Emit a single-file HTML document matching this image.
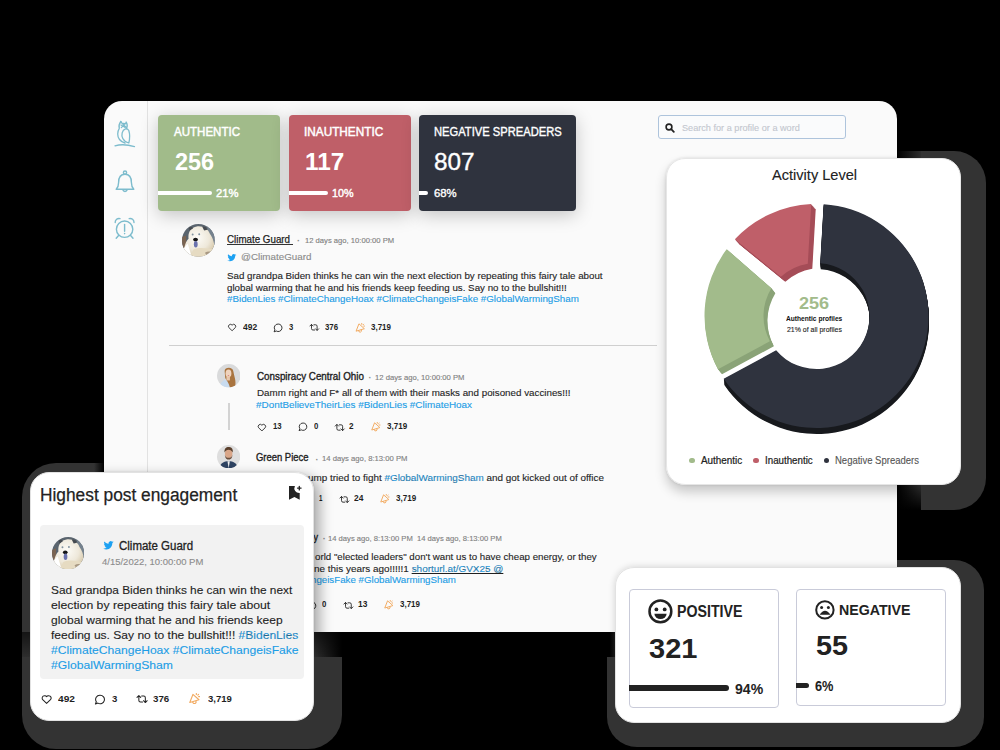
<!DOCTYPE html><html><head><meta charset="utf-8"><style>
html,body{margin:0;padding:0;}
body{width:1000px;height:750px;overflow:hidden;background:#000;position:relative;font-family:'Liberation Sans',sans-serif;}
.t{position:absolute;white-space:nowrap;transform-origin:0 0;}
.L{position:absolute;left:0;top:0;width:1000px;height:750px;}
</style></head><body>
<div style="position:absolute;left:630px;top:151.2px;width:355.5px;height:358.5px;border-radius:32px;background:#333;"></div>
<div style="position:absolute;left:22px;top:462.5px;width:319.5px;height:286.5px;border-radius:34px;background:#333;"></div>
<div style="position:absolute;left:607px;top:560px;width:377px;height:186.5px;border-radius:30px;background:#333;"></div>
<div style="position:absolute;left:897px;top:151px;width:24px;height:359px;border-radius:0;background:linear-gradient(to top, #000 0, rgba(0,0,0,0) 26px), linear-gradient(to right, #000 0, rgba(0,0,0,.75) 30%, rgba(0,0,0,.1) 100%);"></div>
<div style="position:absolute;left:314px;top:632px;width:28px;height:24.5px;border-radius:0;background:linear-gradient(to left, #000 0, rgba(0,0,0,.0) 100%), linear-gradient(to bottom, rgba(0,0,0,.6) 0, rgba(0,0,0,.1) 100%);"></div>
<div style="position:absolute;left:22px;top:632px;width:292px;height:24.5px;border-radius:0;background:linear-gradient(to bottom, rgba(0,0,0,.6) 0, rgba(0,0,0,.1) 100%);"></div>
<div style="position:absolute;left:604px;top:632px;width:11px;height:24.5px;border-radius:0;background:linear-gradient(to right, #000 50%, rgba(0,0,0,.5) 100%);"></div>
<div style="position:absolute;left:94px;top:455px;width:10px;height:20px;border-radius:0;background:linear-gradient(to right, rgba(0,0,0,0) 0, #000 100%);"></div>
<div style="position:absolute;left:103.5px;top:101.2px;width:793.5px;height:530.5px;border-radius:18px;background:#fafafa;overflow:hidden;"></div>
<div style="position:absolute;left:146.5px;top:101px;width:1px;height:531px;border-radius:0;background:#e2e2e2;"></div>
<svg style="position:absolute;left:110px;top:115px" width="30" height="35" viewBox="110 115 30 35"><g fill="none" stroke="#7dbccd" stroke-width="1.3" stroke-linecap="round" stroke-linejoin="round"><path d="M120.8 121.5 C119 124 118.7 126.5 119.3 128.3 C117.3 131.5 117 136.5 119.5 139.5 C121 141.5 123 142.5 125 143"/><path d="M120.8 121.5 L122.3 123.6 C123.5 123.2 124.8 123.3 125.6 123.8 L126.2 122 C127.3 123.8 127.5 126.5 126.5 128.5"/><path d="M121 125 L124.8 127.3 M123 124.3 L126 127.3 M121.3 127.6 L124.5 124.6"/><path d="M125.5 128.8 C122 130 121 135 122.8 138.5 C124 141 126.5 142.3 128.8 143 C129.8 139 129.9 134 128.8 130.5 C128 129.2 126.8 128.6 125.5 128.8 z"/><path d="M115 145.8 C120 144.4 127 144.4 134.5 146.6"/></g></svg>
<svg style="position:absolute;left:110px;top:165px" width="30" height="32" viewBox="110 165 30 32"><g fill="none" stroke="#7dbccd" stroke-width="1.4" stroke-linejoin="round"><circle cx="125" cy="172.6" r="1.6"/><path d="M125 174.3 C119.5 174.3 118.6 178.5 118.6 182.5 C118.6 186 118 187.5 116.2 189.3 L133.8 189.3 C132 187.5 131.4 186 131.4 182.5 C131.4 178.5 130.5 174.3 125 174.3z"/><path d="M122.8 189.8 A2.3 2.3 0 0 0 127.2 189.8"/></g></svg>
<svg style="position:absolute;left:110px;top:212px" width="30" height="32" viewBox="110 212 30 32"><g fill="none" stroke="#7dbccd" stroke-width="1.4" stroke-linecap="round"><circle cx="124.6" cy="229.2" r="8.2"/><path d="M115.2 222.5 A3.8 3.8 0 0 1 120 218.6 M134 222.5 A3.8 3.8 0 0 0 129.2 218.6"/><path d="M118.8 235.2 116.2 238.3 M130.4 235.2 133 238.3"/><path d="M124.6 224.5 V231.3"/></g><circle cx="124.6" cy="233.6" r=".8" fill="#7dbccd"/></svg>
<div style="position:absolute;left:158px;top:115px;width:122px;height:95.5px;border-radius:4px;background:#a1bb8a;box-shadow:0 4px 18px rgba(0,0,0,.22);"></div>
<div style="position:absolute;left:289px;top:115px;width:121.5px;height:95.5px;border-radius:4px;background:#bf5f68;box-shadow:0 4px 18px rgba(0,0,0,.22);"></div>
<div style="position:absolute;left:419px;top:115px;width:156.6px;height:95.5px;border-radius:4px;background:#2f333e;box-shadow:0 4px 18px rgba(0,0,0,.22);"></div>
<div style="position:absolute;left:158px;top:190.9px;width:54px;height:4.6px;border-radius:0 3px 3px 0;background:#fff;"></div>
<div style="position:absolute;left:289px;top:190.9px;width:38.5px;height:4.6px;border-radius:0 3px 3px 0;background:#fff;"></div>
<div style="position:absolute;left:419px;top:190.9px;width:9px;height:4.6px;border-radius:0 3px 3px 0;background:#fff;"></div>
<div style="position:absolute;left:658.4px;top:115.3px;width:187.6px;height:24.2px;border-radius:3px;box-sizing:border-box;border:1px solid #aec4dc;background:#fafbfc;"></div>
<svg style="position:absolute;left:664.5px;top:122.5px;" width="10" height="10" viewBox="0 0 10 10"><circle cx="4" cy="4" r="2.9" fill="none" stroke="#222" stroke-width="1.6"/><path d="M6.2 6.2 8.8 8.8" stroke="#222" stroke-width="1.8" stroke-linecap="round"/></svg>
<svg style="position:absolute;left:181.8px;top:223.8px;" width="32.8" height="32.8" viewBox="0 0 40 40"><defs><clipPath id="cb181"><circle cx="20" cy="20" r="20"/></clipPath>
<radialGradient id="gb181" cx="0.42" cy="0.38" r="0.62"><stop offset="0" stop-color="#fdfcf8"/><stop offset="0.65" stop-color="#eee8da"/><stop offset="1" stop-color="#d9ccb0"/></radialGradient></defs>
<g clip-path="url(#cb181)"><rect width="40" height="40" fill="#5a646e"/>
<path d="M0 16 L5 14 L5 30 L0 31z" fill="#7a6452"/>
<path d="M30 0 L40 0 L40 26 L35 24z" fill="#75828e"/>
<path d="M3 40 C1 31 4 22 8 18 C7 10 11 4 18 3 C26 2 32 6 34 12 C38 17 40 25 40 33 L38 40z" fill="url(#gb181)"/>
<path d="M24.5 3.2 C27.5 2.5 30.5 4 31 7 L27 8z" fill="#454a50"/>
<path d="M8 4.5 C10 3 12.5 3.2 13.5 5.2 L9.5 8z" fill="#454a50"/>
<path d="M0 40 C0 33 3 27 7 24 L12 40z" fill="#ffffff"/>
<path d="M14 31 C21 28 30 29 40 32 L40 40 L10 40z" fill="#e6dbc2"/>
<path d="M28 35 C31 33 35 33 40 35 L40 40 L31 40z" fill="#6a5644" opacity=".5"/>
<circle cx="13" cy="12.8" r="1.2" fill="#8293a0"/><circle cx="21" cy="12.5" r="1.2" fill="#8293a0"/>
<ellipse cx="16.5" cy="19" rx="2.9" ry="2.3" fill="#151515"/>
<ellipse cx="16.8" cy="24.6" rx="2.3" ry="4" fill="#6a72ad"/>
</g></svg>
<div style="position:absolute;left:226.5px;top:243.8px;width:66.2px;height:0.9px;border-radius:0;background:#333;"></div>
<svg style="position:absolute;left:227px;top:253px;" width="9.8" height="8.6" viewBox="0 0 24 22"><path d="M23.6 4.9c-.8.4-1.7.6-2.7.7 1-.6 1.7-1.5 2.1-2.6-.9.5-1.9.9-3 1.1a4.7 4.7 0 0 0-8 4.3C8.1 8.2 4.7 6.3 2.4 3.5a4.7 4.7 0 0 0 1.4 6.2c-.8 0-1.5-.2-2.1-.6v.1c0 2.3 1.6 4.1 3.7 4.6-.7.2-1.4.2-2.1.1a4.7 4.7 0 0 0 4.4 3.2A9.4 9.4 0 0 1 0 19.1 13.3 13.3 0 0 0 7.1 21.2c8.6 0 13.3-7.1 13.3-13.3v-.6c.9-.7 1.7-1.5 2.3-2.4z" fill="#1da1f2"/></svg>
<svg style="position:absolute;left:227.0px;top:323.3px;" width="10.2" height="8.4" viewBox="0 0 24 22"><path d="M12 20.2 3.6 12.2A5 5 0 0 1 12 5.6a5 5 0 0 1 8.4 6.6z" fill="none" stroke="#222" stroke-width="2.2" stroke-linejoin="round"/></svg>
<svg style="position:absolute;left:273.3px;top:322.8px;" width="10" height="10" viewBox="0 0 24 24"><path d="M12.5 2.5a9 9 0 1 1-4.6 16.7L2.6 21.2l1.9-4.8A9 9 0 0 1 12.5 2.5z" fill="none" stroke="#222" stroke-width="2.2" stroke-linejoin="round"/></svg>
<svg style="position:absolute;left:309.2px;top:323.2px;" width="10.6" height="8.8" viewBox="0 0 26 22"><path d="M2 7.5 6 3.5l4 4M6 4v10a3.5 3.5 0 0 0 3.5 3.5H14M24 14.5l-4 4-4-4M20 18V8a3.5 3.5 0 0 0-3.5-3.5H12" fill="none" stroke="#222" stroke-width="2.2" stroke-linejoin="round" stroke-linecap="round"/></svg>
<svg style="position:absolute;left:354.5px;top:322.5px;" width="10.6" height="10" viewBox="0 0 10.5 11"><path d="M3.6 1.3 0.6 9 9.3 6.4z M3.4 8.6a1.6 1.6 0 1 0 3 -0.9 M6.8 0.5v0.9 M8.9 1.3 8.2 2 M9.9 3.4H9" fill="none" stroke="#f2ab62" stroke-width="1.1" stroke-linejoin="round" stroke-linecap="round"/></svg>
<div style="position:absolute;left:169.3px;top:345px;width:488px;height:1px;border-radius:0;background:#cfcfcf;"></div>
<svg style="position:absolute;left:216.8px;top:364px;" width="23.5" height="23.5" viewBox="0 0 40 40"><defs><clipPath id="cw216"><circle cx="20" cy="20" r="20"/></clipPath></defs>
<g clip-path="url(#cw216)"><rect width="40" height="40" fill="#d9dadb"/>
<path d="M4 40 C6 30 12 27 17 26 L24 40z" fill="#c8dbef"/>
<path d="M13 12 C13 5 27 4 28 13 C29 20 33 28 31 38 L22 40 C20 32 16 28 14 24z" fill="#a9743f"/>
<ellipse cx="19.5" cy="16" rx="5" ry="6.5" fill="#efd3bd"/>
<rect x="16" y="21" width="6" height="7" fill="#e8c7ad"/>
<ellipse cx="19.5" cy="19.5" rx="1.6" ry=".8" fill="#d47a78"/>
</g></svg>
<div style="position:absolute;left:228.2px;top:403.3px;width:1.6px;height:27px;border-radius:0;background:#d3d3d3;"></div>
<svg style="position:absolute;left:256.8px;top:422.8px;" width="9.8" height="8.6" viewBox="0 0 24 22"><path d="M12 20.2 3.6 12.2A5 5 0 0 1 12 5.6a5 5 0 0 1 8.4 6.6z" fill="none" stroke="#222" stroke-width="2.2" stroke-linejoin="round"/></svg>
<svg style="position:absolute;left:298.2px;top:422.2px;" width="9.8" height="9.8" viewBox="0 0 24 24"><path d="M12.5 2.5a9 9 0 1 1-4.6 16.7L2.6 21.2l1.9-4.8A9 9 0 0 1 12.5 2.5z" fill="none" stroke="#222" stroke-width="2.2" stroke-linejoin="round"/></svg>
<svg style="position:absolute;left:334.2px;top:422.8px;" width="11.5" height="9" viewBox="0 0 26 22"><path d="M2 7.5 6 3.5l4 4M6 4v10a3.5 3.5 0 0 0 3.5 3.5H14M24 14.5l-4 4-4-4M20 18V8a3.5 3.5 0 0 0-3.5-3.5H12" fill="none" stroke="#222" stroke-width="2.2" stroke-linejoin="round" stroke-linecap="round"/></svg>
<svg style="position:absolute;left:370.8px;top:421.8px;" width="9.8" height="9.8" viewBox="0 0 10.5 11"><path d="M3.6 1.3 0.6 9 9.3 6.4z M3.4 8.6a1.6 1.6 0 1 0 3 -0.9 M6.8 0.5v0.9 M8.9 1.3 8.2 2 M9.9 3.4H9" fill="none" stroke="#f2ab62" stroke-width="1.1" stroke-linejoin="round" stroke-linecap="round"/></svg>
<svg style="position:absolute;left:217px;top:445px;" width="23.3" height="23.3" viewBox="0 0 40 40"><defs><clipPath id="cm217"><circle cx="20" cy="20" r="20"/></clipPath></defs>
<g clip-path="url(#cm217)"><rect width="40" height="40" fill="#dedede"/>
<path d="M4 40 C6 31 12 28 20 28 C28 28 34 31 36 40z" fill="#2f4463"/>
<path d="M18 28 L20 40 L22 28z" fill="#f0f0f0"/>
<ellipse cx="20" cy="15" rx="6.5" ry="8" fill="#d9a689"/>
<path d="M13.5 17 C14 23 17 25 20 25 C23 25 26 23 26.5 17 C25 21 23 22 20 22 C17 22 15 21 13.5 17z" fill="#6b4f3d"/>
<path d="M13 13 C12 6 16 3 21 3.5 C26 4 28 8 27 13 C25 9 22 8 20 8 C17 8 14 10 13 13z" fill="#5a3f2c"/>
</g></svg>
<svg style="position:absolute;left:256.8px;top:494.8px;" width="9.8" height="8.6" viewBox="0 0 24 22"><path d="M12 20.2 3.6 12.2A5 5 0 0 1 12 5.6a5 5 0 0 1 8.4 6.6z" fill="none" stroke="#222" stroke-width="2.2" stroke-linejoin="round"/></svg>
<svg style="position:absolute;left:303.4px;top:494.2px;" width="9.8" height="9.8" viewBox="0 0 24 24"><path d="M12.5 2.5a9 9 0 1 1-4.6 16.7L2.6 21.2l1.9-4.8A9 9 0 0 1 12.5 2.5z" fill="none" stroke="#222" stroke-width="2.2" stroke-linejoin="round"/></svg>
<svg style="position:absolute;left:338.8px;top:494.6px;" width="10.8" height="9" viewBox="0 0 26 22"><path d="M2 7.5 6 3.5l4 4M6 4v10a3.5 3.5 0 0 0 3.5 3.5H14M24 14.5l-4 4-4-4M20 18V8a3.5 3.5 0 0 0-3.5-3.5H12" fill="none" stroke="#222" stroke-width="2.2" stroke-linejoin="round" stroke-linecap="round"/></svg>
<svg style="position:absolute;left:379.8px;top:493.8px;" width="9.8" height="9.8" viewBox="0 0 10.5 11"><path d="M3.6 1.3 0.6 9 9.3 6.4z M3.4 8.6a1.6 1.6 0 1 0 3 -0.9 M6.8 0.5v0.9 M8.9 1.3 8.2 2 M9.9 3.4H9" fill="none" stroke="#f2ab62" stroke-width="1.1" stroke-linejoin="round" stroke-linecap="round"/></svg>
<svg style="position:absolute;left:217px;top:525px;" width="23.3" height="23.3" viewBox="0 0 40 40"><defs><clipPath id="cb217"><circle cx="20" cy="20" r="20"/></clipPath>
<radialGradient id="gb217" cx="0.42" cy="0.38" r="0.62"><stop offset="0" stop-color="#fdfcf8"/><stop offset="0.65" stop-color="#eee8da"/><stop offset="1" stop-color="#d9ccb0"/></radialGradient></defs>
<g clip-path="url(#cb217)"><rect width="40" height="40" fill="#5a646e"/>
<path d="M0 16 L5 14 L5 30 L0 31z" fill="#7a6452"/>
<path d="M30 0 L40 0 L40 26 L35 24z" fill="#75828e"/>
<path d="M3 40 C1 31 4 22 8 18 C7 10 11 4 18 3 C26 2 32 6 34 12 C38 17 40 25 40 33 L38 40z" fill="url(#gb217)"/>
<path d="M24.5 3.2 C27.5 2.5 30.5 4 31 7 L27 8z" fill="#454a50"/>
<path d="M8 4.5 C10 3 12.5 3.2 13.5 5.2 L9.5 8z" fill="#454a50"/>
<path d="M0 40 C0 33 3 27 7 24 L12 40z" fill="#ffffff"/>
<path d="M14 31 C21 28 30 29 40 32 L40 40 L10 40z" fill="#e6dbc2"/>
<path d="M28 35 C31 33 35 33 40 35 L40 40 L31 40z" fill="#6a5644" opacity=".5"/>
<circle cx="13" cy="12.8" r="1.2" fill="#8293a0"/><circle cx="21" cy="12.5" r="1.2" fill="#8293a0"/>
<ellipse cx="16.5" cy="19" rx="2.9" ry="2.3" fill="#151515"/>
<ellipse cx="16.8" cy="24.6" rx="2.3" ry="4" fill="#6a72ad"/>
</g></svg>
<svg style="position:absolute;left:256.8px;top:601.2px;" width="9.8" height="8.6" viewBox="0 0 24 22"><path d="M12 20.2 3.6 12.2A5 5 0 0 1 12 5.6a5 5 0 0 1 8.4 6.6z" fill="none" stroke="#222" stroke-width="2.2" stroke-linejoin="round"/></svg>
<svg style="position:absolute;left:306.8px;top:600.6px;" width="9.8" height="9.8" viewBox="0 0 24 24"><path d="M12.5 2.5a9 9 0 1 1-4.6 16.7L2.6 21.2l1.9-4.8A9 9 0 0 1 12.5 2.5z" fill="none" stroke="#222" stroke-width="2.2" stroke-linejoin="round"/></svg>
<svg style="position:absolute;left:343px;top:601px;" width="10.8" height="9" viewBox="0 0 26 22"><path d="M2 7.5 6 3.5l4 4M6 4v10a3.5 3.5 0 0 0 3.5 3.5H14M24 14.5l-4 4-4-4M20 18V8a3.5 3.5 0 0 0-3.5-3.5H12" fill="none" stroke="#222" stroke-width="2.2" stroke-linejoin="round" stroke-linecap="round"/></svg>
<svg style="position:absolute;left:383.6px;top:600.2px;" width="9.8" height="9.8" viewBox="0 0 10.5 11"><path d="M3.6 1.3 0.6 9 9.3 6.4z M3.4 8.6a1.6 1.6 0 1 0 3 -0.9 M6.8 0.5v0.9 M8.9 1.3 8.2 2 M9.9 3.4H9" fill="none" stroke="#f2ab62" stroke-width="1.1" stroke-linejoin="round" stroke-linecap="round"/></svg>
<div class="t" style="left:174.20px;top:126.45px;font-size:12.1px;line-height:12.1px;font-weight:normal;color:#fff;transform:scaleX(0.9544);-webkit-text-stroke:0.45px #fff;">AUTHENTIC</div>
<div class="t" style="left:304.03px;top:126.45px;font-size:12.1px;line-height:12.1px;font-weight:normal;color:#fff;transform:scaleX(0.9744);-webkit-text-stroke:0.45px #fff;">INAUTHENTIC</div>
<div class="t" style="left:434.00px;top:126.45px;font-size:12.1px;line-height:12.1px;font-weight:normal;color:#fff;transform:scaleX(0.9244);-webkit-text-stroke:0.35px #fff;">NEGATIVE SPREADERS</div>
<div class="t" style="left:174.60px;top:149.80px;font-size:24.4px;line-height:24.4px;font-weight:bold;color:#fff;transform:scaleX(0.9619);">256</div>
<div class="t" style="left:305.00px;top:149.80px;font-size:24.4px;line-height:24.4px;font-weight:bold;color:#fff;transform:scaleX(0.9951);">117</div>
<div class="t" style="left:433.80px;top:149.80px;font-size:24.4px;line-height:24.4px;font-weight:normal;color:#fff;transform:scaleX(0.9967);-webkit-text-stroke:0.35px #fff;">807</div>
<div class="t" style="left:216.00px;top:187.60px;font-size:11.8px;line-height:11.8px;font-weight:normal;color:#fff;transform:scaleX(0.9535);-webkit-text-stroke:0.45px #fff;">21%</div>
<div class="t" style="left:332.00px;top:187.60px;font-size:11.8px;line-height:11.8px;font-weight:normal;color:#fff;transform:scaleX(0.9120);-webkit-text-stroke:0.45px #fff;">10%</div>
<div class="t" style="left:434.00px;top:187.60px;font-size:11.8px;line-height:11.8px;font-weight:normal;color:#fff;transform:scaleX(0.9618);-webkit-text-stroke:0.35px #fff;">68%</div>
<div class="t" style="left:681.50px;top:123.20px;font-size:9.6px;line-height:9.6px;font-weight:normal;color:#c3c7cf;transform:scaleX(0.9524);-webkit-text-stroke:0.12px #c3c7cf;">Search for a profile or a word</div>
<div class="t" style="left:227.00px;top:235.00px;font-size:10.0px;line-height:10.0px;font-weight:normal;color:#1f1f1f;transform:scaleX(0.9780);-webkit-text-stroke:0.25px #1f1f1f;">Climate Guard</div>
<div class="t" style="left:297.00px;top:237.00px;font-size:9px;line-height:9px;font-weight:bold;color:#888;">·</div>
<div class="t" style="left:304.50px;top:237.30px;font-size:7.4px;line-height:7.4px;font-weight:normal;color:#808080;transform:scaleX(1.0333);-webkit-text-stroke:0.12px #808080;">12 days ago, 10:00:00 PM</div>
<div class="t" style="left:241.00px;top:252.10px;font-size:9.8px;line-height:9.8px;font-weight:normal;color:#8a8a8a;-webkit-text-stroke:0.12px #8a8a8a;">@ClimateGuard</div>
<div class="t" style="left:226.90px;top:271.30px;font-size:9.4px;line-height:9.4px;font-weight:normal;color:#1f1f1f;transform:scaleX(1.0399);-webkit-text-stroke:0.12px #1f1f1f;">Sad grandpa Biden thinks he can win the next election by repeating this fairy tale about</div>
<div class="t" style="left:226.90px;top:283.30px;font-size:9.4px;line-height:9.4px;font-weight:normal;color:#1f1f1f;transform:scaleX(1.0397);-webkit-text-stroke:0.12px #1f1f1f;">global warming that he and his friends keep feeding us. Say no to the bullshit!!!</div>
<div class="t" style="left:226.90px;top:294.30px;font-size:9.4px;line-height:9.4px;font-weight:normal;color:#1d9de6;transform:scaleX(1.0429);-webkit-text-stroke:0.12px #1d9de6;">#BidenLies #ClimateChangeHoax #ClimateChangeisFake #GlobalWarmingSham</div>
<div class="t" style="left:242.50px;top:323.25px;font-size:8.5px;line-height:8.5px;font-weight:bold;color:#1f1f1f;transform:scaleX(0.9962);">492</div>
<div class="t" style="left:289.30px;top:323.25px;font-size:8.5px;line-height:8.5px;font-weight:bold;color:#1f1f1f;transform:scaleX(0.9000);">3</div>
<div class="t" style="left:325.00px;top:323.25px;font-size:8.5px;line-height:8.5px;font-weight:bold;color:#1f1f1f;transform:scaleX(0.9201);">376</div>
<div class="t" style="left:370.80px;top:323.25px;font-size:8.5px;line-height:8.5px;font-weight:bold;color:#1f1f1f;transform:scaleX(0.9376);">3,719</div>
<div class="t" style="left:257.00px;top:372.00px;font-size:10.0px;line-height:10.0px;font-weight:normal;color:#1f1f1f;transform:scaleX(0.9810);-webkit-text-stroke:0.35px #1f1f1f;">Conspiracy Central Ohio</div>
<div class="t" style="left:368.60px;top:374.00px;font-size:9px;line-height:9px;font-weight:bold;color:#888;">·</div>
<div class="t" style="left:374.60px;top:374.30px;font-size:7.4px;line-height:7.4px;font-weight:normal;color:#808080;transform:scaleX(1.0368);-webkit-text-stroke:0.12px #808080;">12 days ago, 10:00:00 PM</div>
<div class="t" style="left:257.00px;top:388.30px;font-size:9.4px;line-height:9.4px;font-weight:normal;color:#1f1f1f;transform:scaleX(1.0443);-webkit-text-stroke:0.12px #1f1f1f;">Damm right and F* all of them with their masks and poisoned vaccines!!!</div>
<div class="t" style="left:255.50px;top:400.30px;font-size:9.4px;line-height:9.4px;font-weight:normal;color:#1d9de6;transform:scaleX(1.0545);-webkit-text-stroke:0.12px #1d9de6;">#DontBelieveTheirLies #BidenLies #ClimateHoax</div>
<div class="t" style="left:272.60px;top:422.25px;font-size:8.5px;line-height:8.5px;font-weight:bold;color:#1f1f1f;transform:scaleX(0.9150);">13</div>
<div class="t" style="left:313.90px;top:422.25px;font-size:8.5px;line-height:8.5px;font-weight:bold;color:#1f1f1f;transform:scaleX(0.9200);">0</div>
<div class="t" style="left:349.40px;top:422.25px;font-size:8.5px;line-height:8.5px;font-weight:bold;color:#1f1f1f;transform:scaleX(0.9600);">2</div>
<div class="t" style="left:386.60px;top:422.25px;font-size:8.5px;line-height:8.5px;font-weight:bold;color:#1f1f1f;transform:scaleX(0.9469);">3,719</div>
<div class="t" style="left:256.10px;top:453.00px;font-size:10.0px;line-height:10.0px;font-weight:normal;color:#1f1f1f;transform:scaleX(0.9442);-webkit-text-stroke:0.35px #1f1f1f;">Green Piece</div>
<div class="t" style="left:315.40px;top:456.00px;font-size:9px;line-height:9px;font-weight:bold;color:#888;">·</div>
<div class="t" style="left:322.00px;top:455.30px;font-size:7.4px;line-height:7.4px;font-weight:normal;color:#808080;transform:scaleX(1.0400);-webkit-text-stroke:0.12px #808080;">14 days ago, 8:13:00 PM</div>
<div class="t" style="left:308.30px;top:473.30px;font-size:9.4px;line-height:9.4px;font-weight:normal;color:#1f1f1f;transform:scaleX(1.0555);-webkit-text-stroke:0.12px #1f1f1f;">ump tried to fight <span style="color:#1d9de6">#GlobalWarmingSham</span> and got kicked out of office</div>
<div class="t" style="left:258.00px;top:473.30px;font-size:9.4px;line-height:9.4px;font-weight:normal;color:#1f1f1f;transform:scaleX(1.2042);-webkit-text-stroke:0.12px #1f1f1f;">Donald Tr</div>
<div class="t" style="left:298.00px;top:494.25px;font-size:8.5px;line-height:8.5px;font-weight:bold;color:#1f1f1f;transform:scaleX(0.9200);">9</div>
<div class="t" style="left:319.00px;top:494.25px;font-size:8.5px;line-height:8.5px;font-weight:bold;color:#1f1f1f;transform:scaleX(0.7200);">1</div>
<div class="t" style="left:353.80px;top:494.25px;font-size:8.5px;line-height:8.5px;font-weight:bold;color:#1f1f1f;transform:scaleX(0.9869);">24</div>
<div class="t" style="left:395.80px;top:494.25px;font-size:8.5px;line-height:8.5px;font-weight:bold;color:#1f1f1f;transform:scaleX(0.9469);">3,719</div>
<div class="t" style="left:256.50px;top:533.00px;font-size:10.0px;line-height:10.0px;font-weight:normal;color:#1f1f1f;transform:scaleX(0.9087);-webkit-text-stroke:0.35px #1f1f1f;">Climate Reality</div>
<div class="t" style="left:322.80px;top:535.00px;font-size:9px;line-height:9px;font-weight:bold;color:#888;">·</div>
<div class="t" style="left:328.00px;top:535.30px;font-size:7.4px;line-height:7.4px;font-weight:normal;color:#808080;transform:scaleX(1.0315);white-space:pre;-webkit-text-stroke:0.12px #808080;">14 days ago, 8:13:00 PM  14 days ago, 8:13:00 PM</div>
<div class="t" style="left:314.60px;top:552.30px;font-size:9.4px;line-height:9.4px;font-weight:normal;color:#1f1f1f;transform:scaleX(1.0357);-webkit-text-stroke:0.12px #1f1f1f;">orld "elected leaders" don't want us to have cheap energy, or they</div>
<div class="t" style="left:314.40px;top:564.30px;font-size:9.4px;line-height:9.4px;font-weight:normal;color:#1f1f1f;transform:scaleX(1.0585);-webkit-text-stroke:0.12px #1f1f1f;">ne this years ago!!!!!1 <span style="color:#1d9de6;text-decoration:underline">shorturl.at/GVX25 @</span></div>
<div class="t" style="left:310.90px;top:575.30px;font-size:9.4px;line-height:9.4px;font-weight:normal;color:#1d9de6;transform:scaleX(1.0364);-webkit-text-stroke:0.12px #1d9de6;">ngeisFake #GlobalWarmingSham</div>
<div class="t" style="left:322.40px;top:600.25px;font-size:8.5px;line-height:8.5px;font-weight:bold;color:#1f1f1f;transform:scaleX(0.9200);">0</div>
<div class="t" style="left:357.60px;top:600.25px;font-size:8.5px;line-height:8.5px;font-weight:bold;color:#1f1f1f;transform:scaleX(0.9869);">13</div>
<div class="t" style="left:399.80px;top:600.25px;font-size:8.5px;line-height:8.5px;font-weight:bold;color:#1f1f1f;transform:scaleX(0.9376);">3,719</div>
<div style="position:absolute;left:104px;top:101px;width:793px;height:531px;overflow:hidden;border-radius:18px;"><div style="position:absolute;left:562px;top:57px;width:295px;height:326.7px;border-radius:19px;box-shadow:0 7px 12px rgba(0,0,0,.2), 0 0 3px rgba(0,0,0,.12);"></div><div style="position:absolute;left:-74px;top:370.5px;width:283.8px;height:249.8px;border-radius:19px;box-shadow:6px 4px 13px rgba(0,0,0,.32), 0 0 2px rgba(0,0,0,.15);"></div><div style="position:absolute;left:511px;top:465.5px;width:345.5px;height:156.5px;border-radius:19px;box-shadow:0 0 7px rgba(0,0,0,.16);"></div></div>
<div style="position:absolute;left:666px;top:158px;width:295px;height:326.7px;border-radius:19px;background:#fff;box-sizing:border-box;border:1px solid #e6e6e6;"></div>
<svg style="position:absolute;left:0;top:0" width="1000" height="750" viewBox="0 0 1000 750"><path d="M823.65 204.23 A112.0 112.0 0 1 1 723.69 378.69 L776.13 350.34 A53.0 53.0 0 1 0 820.25 263.13 Z" fill="#17191d" transform="translate(0.06 0.75)"/><path d="M823.65 204.23 A112.0 112.0 0 1 1 723.69 378.69 L776.13 350.34 A53.0 53.0 0 1 0 820.25 263.13 Z" fill="#17191d" transform="translate(0.12 1.50)"/><path d="M823.65 204.23 A112.0 112.0 0 1 1 723.69 378.69 L776.13 350.34 A53.0 53.0 0 1 0 820.25 263.13 Z" fill="#17191d" transform="translate(0.19 2.25)"/><path d="M823.65 204.23 A112.0 112.0 0 1 1 723.69 378.69 L776.13 350.34 A53.0 53.0 0 1 0 820.25 263.13 Z" fill="#17191d" transform="translate(0.25 3.00)"/><path d="M823.65 204.23 A112.0 112.0 0 1 1 723.69 378.69 L776.13 350.34 A53.0 53.0 0 1 0 820.25 263.13 Z" fill="#17191d" transform="translate(0.31 3.75)"/><path d="M823.65 204.23 A112.0 112.0 0 1 1 723.69 378.69 L776.13 350.34 A53.0 53.0 0 1 0 820.25 263.13 Z" fill="#17191d" transform="translate(0.38 4.50)"/><path d="M823.65 204.23 A112.0 112.0 0 1 1 723.69 378.69 L776.13 350.34 A53.0 53.0 0 1 0 820.25 263.13 Z" fill="#17191d" transform="translate(0.44 5.25)"/><path d="M823.65 204.23 A112.0 112.0 0 1 1 723.69 378.69 L776.13 350.34 A53.0 53.0 0 1 0 820.25 263.13 Z" fill="#17191d" transform="translate(0.50 6.00)"/><path d="M823.65 204.23 A112.0 112.0 0 1 1 723.69 378.69 L776.13 350.34 A53.0 53.0 0 1 0 820.25 263.13 Z" fill="#2f333e"/><path d="M717.98 369.27 A112.0 112.0 0 0 1 726.64 249.15 L771.38 288.19 A53.0 53.0 0 0 0 769.88 341.21 Z" fill="#8aa377" transform="translate(0.50 0.62)"/><path d="M717.98 369.27 A112.0 112.0 0 0 1 726.64 249.15 L771.38 288.19 A53.0 53.0 0 0 0 769.88 341.21 Z" fill="#8aa377" transform="translate(1.00 1.25)"/><path d="M717.98 369.27 A112.0 112.0 0 0 1 726.64 249.15 L771.38 288.19 A53.0 53.0 0 0 0 769.88 341.21 Z" fill="#8aa377" transform="translate(1.50 1.88)"/><path d="M717.98 369.27 A112.0 112.0 0 0 1 726.64 249.15 L771.38 288.19 A53.0 53.0 0 0 0 769.88 341.21 Z" fill="#8aa377" transform="translate(2.00 2.50)"/><path d="M717.98 369.27 A112.0 112.0 0 0 1 726.64 249.15 L771.38 288.19 A53.0 53.0 0 0 0 769.88 341.21 Z" fill="#8aa377" transform="translate(2.50 3.12)"/><path d="M717.98 369.27 A112.0 112.0 0 0 1 726.64 249.15 L771.38 288.19 A53.0 53.0 0 0 0 769.88 341.21 Z" fill="#8aa377" transform="translate(3.00 3.75)"/><path d="M717.98 369.27 A112.0 112.0 0 0 1 726.64 249.15 L771.38 288.19 A53.0 53.0 0 0 0 769.88 341.21 Z" fill="#8aa377" transform="translate(3.50 4.38)"/><path d="M717.98 369.27 A112.0 112.0 0 0 1 726.64 249.15 L771.38 288.19 A53.0 53.0 0 0 0 769.88 341.21 Z" fill="#8aa377" transform="translate(4.00 5.00)"/><path d="M717.98 369.27 A112.0 112.0 0 0 1 726.64 249.15 L771.38 288.19 A53.0 53.0 0 0 0 769.88 341.21 Z" fill="#a2bb8b"/><path d="M734.85 239.34 A112.0 112.0 0 0 1 811.23 204.12 L807.80 263.72 A53.0 53.0 0 0 0 780.89 276.75 Z" fill="#a54c57" transform="translate(0.56 0.62)"/><path d="M734.85 239.34 A112.0 112.0 0 0 1 811.23 204.12 L807.80 263.72 A53.0 53.0 0 0 0 780.89 276.75 Z" fill="#a54c57" transform="translate(1.12 1.25)"/><path d="M734.85 239.34 A112.0 112.0 0 0 1 811.23 204.12 L807.80 263.72 A53.0 53.0 0 0 0 780.89 276.75 Z" fill="#a54c57" transform="translate(1.69 1.88)"/><path d="M734.85 239.34 A112.0 112.0 0 0 1 811.23 204.12 L807.80 263.72 A53.0 53.0 0 0 0 780.89 276.75 Z" fill="#a54c57" transform="translate(2.25 2.50)"/><path d="M734.85 239.34 A112.0 112.0 0 0 1 811.23 204.12 L807.80 263.72 A53.0 53.0 0 0 0 780.89 276.75 Z" fill="#a54c57" transform="translate(2.81 3.12)"/><path d="M734.85 239.34 A112.0 112.0 0 0 1 811.23 204.12 L807.80 263.72 A53.0 53.0 0 0 0 780.89 276.75 Z" fill="#a54c57" transform="translate(3.38 3.75)"/><path d="M734.85 239.34 A112.0 112.0 0 0 1 811.23 204.12 L807.80 263.72 A53.0 53.0 0 0 0 780.89 276.75 Z" fill="#a54c57" transform="translate(3.94 4.38)"/><path d="M734.85 239.34 A112.0 112.0 0 0 1 811.23 204.12 L807.80 263.72 A53.0 53.0 0 0 0 780.89 276.75 Z" fill="#a54c57" transform="translate(4.50 5.00)"/><path d="M734.85 239.34 A112.0 112.0 0 0 1 811.23 204.12 L807.80 263.72 A53.0 53.0 0 0 0 780.89 276.75 Z" fill="#bf5f69"/></svg>
<div style="position:absolute;left:689.35px;top:457.6px;width:5.8px;height:5.8px;border-radius:50%;background:#a2bb8b;"></div>
<div style="position:absolute;left:753.1px;top:457.6px;width:5.8px;height:5.8px;border-radius:50%;background:#bf5f69;"></div>
<div style="position:absolute;left:823.7px;top:457.6px;width:5.8px;height:5.8px;border-radius:50%;background:#2f333e;"></div>
<div class="t" style="left:771.50px;top:168.05px;font-size:14.9px;line-height:14.9px;font-weight:normal;color:#222;transform:scaleX(0.9794);-webkit-text-stroke:0.12px #222;">Activity Level</div>
<div class="t" style="left:799.20px;top:294.50px;font-size:17.0px;line-height:17.0px;font-weight:bold;color:#a2bb8b;transform:scaleX(1.0642);">256</div>
<div class="t" style="left:786.00px;top:315.40px;font-size:7.2px;line-height:7.2px;font-weight:bold;color:#111;transform:scaleX(0.9214);">Authentic profiles</div>
<div class="t" style="left:787.00px;top:326.40px;font-size:7.2px;line-height:7.2px;font-weight:normal;color:#222;transform:scaleX(0.9678);-webkit-text-stroke:0.12px #222;">21% of all profiles</div>
<div class="t" style="left:700.75px;top:455.80px;font-size:10.4px;line-height:10.4px;font-weight:normal;color:#222;transform:scaleX(0.9507);-webkit-text-stroke:0.22px #222;">Authentic</div>
<div class="t" style="left:764.50px;top:455.80px;font-size:10.4px;line-height:10.4px;font-weight:normal;color:#222;transform:scaleX(0.9380);-webkit-text-stroke:0.22px #222;">Inauthentic</div>
<div class="t" style="left:835.00px;top:455.80px;font-size:10.4px;line-height:10.4px;font-weight:normal;color:#555;transform:scaleX(0.9139);-webkit-text-stroke:0.12px #555;">Negative Spreaders</div>
<div style="position:absolute;left:30px;top:471.5px;width:283.8px;height:249.8px;border-radius:19px;background:#fff;box-sizing:border-box;border:1px solid #e2e2e2;"></div>
<svg style="position:absolute;left:288.3px;top:485.4px;" width="15" height="15" viewBox="0 0 15 15"><path d="M1 1 H6.9 A4.9 4.9 0 0 0 11.7 8.1 V14.8 L6.4 12 L1 14.8z" fill="#222"/><path d="M11.3 1.3 V4.9 M9.5 3.1 H13.1" stroke="#222" stroke-width="1.3" stroke-linecap="round"/></svg>
<div style="position:absolute;left:40.3px;top:525px;width:263.7px;height:154px;border-radius:4px;background:#f2f2f2;"></div>
<svg style="position:absolute;left:51.6px;top:536.7px;" width="32.2" height="32.2" viewBox="0 0 40 40"><defs><clipPath id="cb51"><circle cx="20" cy="20" r="20"/></clipPath>
<radialGradient id="gb51" cx="0.42" cy="0.38" r="0.62"><stop offset="0" stop-color="#fdfcf8"/><stop offset="0.65" stop-color="#eee8da"/><stop offset="1" stop-color="#d9ccb0"/></radialGradient></defs>
<g clip-path="url(#cb51)"><rect width="40" height="40" fill="#5a646e"/>
<path d="M0 16 L5 14 L5 30 L0 31z" fill="#7a6452"/>
<path d="M30 0 L40 0 L40 26 L35 24z" fill="#75828e"/>
<path d="M3 40 C1 31 4 22 8 18 C7 10 11 4 18 3 C26 2 32 6 34 12 C38 17 40 25 40 33 L38 40z" fill="url(#gb51)"/>
<path d="M24.5 3.2 C27.5 2.5 30.5 4 31 7 L27 8z" fill="#454a50"/>
<path d="M8 4.5 C10 3 12.5 3.2 13.5 5.2 L9.5 8z" fill="#454a50"/>
<path d="M0 40 C0 33 3 27 7 24 L12 40z" fill="#ffffff"/>
<path d="M14 31 C21 28 30 29 40 32 L40 40 L10 40z" fill="#e6dbc2"/>
<path d="M28 35 C31 33 35 33 40 35 L40 40 L31 40z" fill="#6a5644" opacity=".5"/>
<circle cx="13" cy="12.8" r="1.2" fill="#8293a0"/><circle cx="21" cy="12.5" r="1.2" fill="#8293a0"/>
<ellipse cx="16.5" cy="19" rx="2.9" ry="2.3" fill="#151515"/>
<ellipse cx="16.8" cy="24.6" rx="2.3" ry="4" fill="#6a72ad"/>
</g></svg>
<svg style="position:absolute;left:102.8px;top:540.3px;" width="11.1" height="9.8" viewBox="0 0 24 22"><path d="M23.6 4.9c-.8.4-1.7.6-2.7.7 1-.6 1.7-1.5 2.1-2.6-.9.5-1.9.9-3 1.1a4.7 4.7 0 0 0-8 4.3C8.1 8.2 4.7 6.3 2.4 3.5a4.7 4.7 0 0 0 1.4 6.2c-.8 0-1.5-.2-2.1-.6v.1c0 2.3 1.6 4.1 3.7 4.6-.7.2-1.4.2-2.1.1a4.7 4.7 0 0 0 4.4 3.2A9.4 9.4 0 0 1 0 19.1 13.3 13.3 0 0 0 7.1 21.2c8.6 0 13.3-7.1 13.3-13.3v-.6c.9-.7 1.7-1.5 2.3-2.4z" fill="#1da1f2"/></svg>
<svg style="position:absolute;left:40.8px;top:694.2px;" width="11.2" height="10.2" viewBox="0 0 24 22"><path d="M12 20.2 3.6 12.2A5 5 0 0 1 12 5.6a5 5 0 0 1 8.4 6.6z" fill="none" stroke="#222" stroke-width="2.2" stroke-linejoin="round"/></svg>
<svg style="position:absolute;left:93.6px;top:693.6px;" width="11.8" height="11.4" viewBox="0 0 24 24"><path d="M12.5 2.5a9 9 0 1 1-4.6 16.7L2.6 21.2l1.9-4.8A9 9 0 0 1 12.5 2.5z" fill="none" stroke="#222" stroke-width="2.2" stroke-linejoin="round"/></svg>
<svg style="position:absolute;left:135.6px;top:694.4px;" width="12.2" height="10.2" viewBox="0 0 26 22"><path d="M2 7.5 6 3.5l4 4M6 4v10a3.5 3.5 0 0 0 3.5 3.5H14M24 14.5l-4 4-4-4M20 18V8a3.5 3.5 0 0 0-3.5-3.5H12" fill="none" stroke="#222" stroke-width="2.2" stroke-linejoin="round" stroke-linecap="round"/></svg>
<svg style="position:absolute;left:188.6px;top:692.8px;" width="11.4" height="11.6" viewBox="0 0 10.5 11"><path d="M3.6 1.3 0.6 9 9.3 6.4z M3.4 8.6a1.6 1.6 0 1 0 3 -0.9 M6.8 0.5v0.9 M8.9 1.3 8.2 2 M9.9 3.4H9" fill="none" stroke="#f2ab62" stroke-width="1.1" stroke-linejoin="round" stroke-linecap="round"/></svg>
<div class="t" style="left:39.78px;top:485.60px;font-size:18.8px;line-height:18.8px;font-weight:normal;color:#222;transform:scaleX(0.9218);-webkit-text-stroke:0.25px #222;">Highest post engagement</div>
<div class="t" style="left:118.60px;top:539.50px;font-size:12.0px;line-height:12.0px;font-weight:normal;color:#222;transform:scaleX(0.9571);-webkit-text-stroke:0.3px #222;">Climate Guard</div>
<div class="t" style="left:102.00px;top:557.30px;font-size:9.4px;line-height:9.4px;font-weight:normal;color:#8c8c8c;transform:scaleX(1.0123);-webkit-text-stroke:0.12px #8c8c8c;">4/15/2022, 10:00:00 PM</div>
<div class="t" style="left:51.00px;top:584.60px;font-size:11.8px;line-height:11.8px;font-weight:normal;color:#1f1f1f;transform:scaleX(1.0052);-webkit-text-stroke:0.12px #1f1f1f;">Sad grandpa Biden thinks he can win the next</div>
<div class="t" style="left:51.00px;top:599.60px;font-size:11.8px;line-height:11.8px;font-weight:normal;color:#1f1f1f;transform:scaleX(1.0383);-webkit-text-stroke:0.12px #1f1f1f;">election by repeating this fairy tale about</div>
<div class="t" style="left:51.00px;top:614.60px;font-size:11.8px;line-height:11.8px;font-weight:normal;color:#1f1f1f;transform:scaleX(1.0176);-webkit-text-stroke:0.12px #1f1f1f;">global warming that he and his friends keep</div>
<div class="t" style="left:51.00px;top:629.60px;font-size:11.8px;line-height:11.8px;font-weight:normal;color:#1f1f1f;transform:scaleX(1.0215);-webkit-text-stroke:0.12px #1f1f1f;">feeding us. Say no to the bullshit!!! <span style="color:#1d9de6">#BidenLies</span></div>
<div class="t" style="left:50.90px;top:644.60px;font-size:11.8px;line-height:11.8px;font-weight:normal;color:#1d9de6;transform:scaleX(1.0259);-webkit-text-stroke:0.12px #1d9de6;">#ClimateChangeHoax #ClimateChangeisFake</div>
<div class="t" style="left:50.90px;top:659.60px;font-size:11.8px;line-height:11.8px;font-weight:normal;color:#1d9de6;transform:scaleX(1.0312);-webkit-text-stroke:0.12px #1d9de6;">#GlobalWarmingSham</div>
<div class="t" style="left:58.40px;top:694.20px;font-size:9.6px;line-height:9.6px;font-weight:bold;color:#1f1f1f;transform:scaleX(1.0593);">492</div>
<div class="t" style="left:112.00px;top:694.20px;font-size:9.6px;line-height:9.6px;font-weight:bold;color:#1f1f1f;">3</div>
<div class="t" style="left:153.30px;top:694.20px;font-size:9.6px;line-height:9.6px;font-weight:bold;color:#1f1f1f;transform:scaleX(1.0146);">376</div>
<div class="t" style="left:207.50px;top:694.20px;font-size:9.6px;line-height:9.6px;font-weight:bold;color:#1f1f1f;transform:scaleX(0.9927);">3,719</div>
<div style="position:absolute;left:615px;top:566.5px;width:345.5px;height:156.5px;border-radius:19px;background:#fff;box-sizing:border-box;border:1px solid #e2e2e2;"></div>
<div style="position:absolute;left:628.6px;top:588.8px;width:150.4px;height:119.6px;border-radius:4px;box-sizing:border-box;border:1.3px solid #c9cbd9;"></div>
<div style="position:absolute;left:796.4px;top:589.3px;width:149.8px;height:117.2px;border-radius:4px;box-sizing:border-box;border:1.3px solid #c9cbd9;"></div>
<svg style="position:absolute;left:647.5px;top:598.5px;" width="25" height="25" viewBox="0 0 25 25"><circle cx="12.4" cy="12.4" r="10.9" fill="none" stroke="#222" stroke-width="2.5"/><circle cx="8.4" cy="10.4" r="1.9" fill="#222"/><circle cx="16.7" cy="10.4" r="1.9" fill="#222"/><path d="M6.4 14.8 H18.6 A6.1 5.2 0 0 1 6.4 14.8z" fill="#222"/></svg>
<svg style="position:absolute;left:815.4px;top:599.9px;" width="20" height="20" viewBox="0 0 20 20"><circle cx="9.9" cy="9.9" r="8.7" fill="none" stroke="#222" stroke-width="2"/><circle cx="6.6" cy="7.4" r="1.5" fill="#222"/><circle cx="13.4" cy="7.4" r="1.5" fill="#222"/><path d="M4.6 14.8 Q10 6.8 15.5 14.8z" fill="#222"/></svg>
<div style="position:absolute;left:628.6px;top:685.4px;width:100.7px;height:5.7px;border-radius:0 3px 3px 0;background:#222;"></div>
<div style="position:absolute;left:796.4px;top:683.2px;width:13px;height:5.2px;border-radius:0 3px 3px 0;background:#222;"></div>
<div class="t" style="left:676.59px;top:604.20px;font-size:15.6px;line-height:15.6px;font-weight:bold;color:#222;transform:scaleX(0.9104);">POSITIVE</div>
<div class="t" style="left:648.90px;top:635.00px;font-size:28.0px;line-height:28.0px;font-weight:bold;color:#222;transform:scaleX(1.0359);">321</div>
<div class="t" style="left:734.70px;top:680.50px;font-size:15.0px;line-height:15.0px;font-weight:bold;color:#222;transform:scaleX(0.9365);">94%</div>
<div class="t" style="left:839.38px;top:602.30px;font-size:15.4px;line-height:15.4px;font-weight:bold;color:#222;transform:scaleX(0.9218);">NEGATIVE</div>
<div class="t" style="left:816.40px;top:632.25px;font-size:27.5px;line-height:27.5px;font-weight:bold;color:#222;transform:scaleX(1.0464);">55</div>
<div class="t" style="left:815.10px;top:678.50px;font-size:14.0px;line-height:14.0px;font-weight:bold;color:#222;transform:scaleX(0.9141);">6%</div>
</body></html>
